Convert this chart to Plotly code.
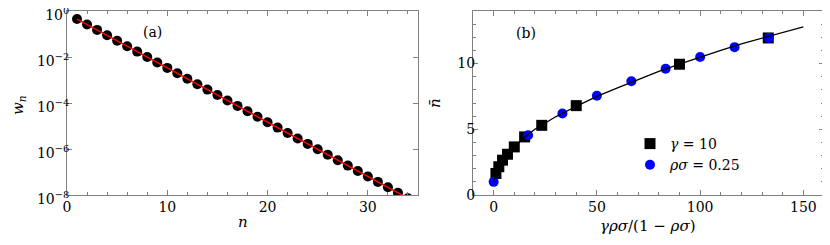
import plotly.graph_objects as go

# ---- panel (a) data ----
n_vals = list(range(1, 35))
w_log10 = [-0.350, -0.586, -0.822, -1.058, -1.294, -1.530, -1.766, -2.002, -2.238, -2.474,
           -2.710, -2.946, -3.182, -3.418, -3.654, -3.890, -4.126, -4.362, -4.598, -4.834,
           -5.070, -5.306, -5.542, -5.778, -6.014, -6.250, -6.486, -6.722, -6.958, -7.194,
           -7.430, -7.666, -7.902, -8.138]
w_vals = [10 ** v for v in w_log10]

# ---- panel (b) data ----
sq_x = [1.1, 2.5, 4.3, 6.7, 10.0, 15.0, 23.3, 40.0, 90.0, 133.0]
sq_y = [1.64, 2.15, 2.65, 3.1, 3.66, 4.42, 5.3, 6.8, 9.95, 11.95]
ci_x = [0.0, 16.7, 33.3, 50.0, 66.7, 83.3, 100.0, 116.7, 133.3]
ci_y = [1.0, 4.55, 6.2, 7.55, 8.65, 9.6, 10.5, 11.25, 11.95]
curve_x = [0, 0.3, 1, 2.5, 5, 10, 15, 20, 30, 40, 50, 60, 70, 80, 90, 100, 110, 120, 130, 140, 150]
curve_y = [1.0, 1.3, 1.64, 2.15, 2.8, 3.66, 4.4, 5.0, 5.95, 6.75, 7.5, 8.15, 8.8, 9.4, 9.95,
           10.5, 11.0, 11.5, 11.95, 12.4, 12.8]

a_xticks = [0, 10, 20, 30]
a_yticks = [1e0, 1e-2, 1e-4, 1e-6, 1e-8]
a_ytext = ["10<sup>0</sup>", "10<sup>−2</sup>", "10<sup>−4</sup>", "10<sup>−6</sup>", "10<sup>−8</sup>"]
b_xticks = [0, 50, 100, 150]
b_yticks = [0, 5, 10]
b_ytext = ["0", "5", "10"]

FONT = "DejaVu Serif"
AX = "#808080"
W, H = 830, 245
OFF = 8  # page offset of the figure inside the browser window


def px(x):
    return (x - OFF) / W


def py(y):
    return 1 - (y - OFF) / H


fig = go.Figure()
fig.add_trace(go.Scatter(x=n_vals, y=w_vals, mode="markers",
                         marker=dict(color="black", size=10), showlegend=False,
                         xaxis="x", yaxis="y"))
fig.add_trace(go.Scatter(x=n_vals, y=w_vals, mode="lines",
                         line=dict(color="red", width=1.5), showlegend=False,
                         xaxis="x", yaxis="y"))
fig.add_trace(go.Scatter(x=sq_x, y=sq_y, mode="markers", name="<i>γ</i> = 10",
                         marker=dict(color="black", size=11, symbol="square"),
                         xaxis="x2", yaxis="y2"))
fig.add_trace(go.Scatter(x=ci_x, y=ci_y, mode="markers", name="<i>ρσ</i> = 0.25",
                         marker=dict(color="blue", size=10), xaxis="x2", yaxis="y2"))
fig.add_trace(go.Scatter(x=curve_x, y=curve_y, mode="lines", line=dict(color="black", width=1.3),
                         showlegend=False, xaxis="x2", yaxis="y2"))


def axcommon(letter):
    return dict(showline=True, linecolor=AX, linewidth=1, mirror="allticks", ticks="inside",
                tickcolor=AX, ticklen=5, showgrid=False, zeroline=False,
                automargin=False, ticklabeloverflow="allow",
                ticklabelstandoff=(-6 if letter == "y" else -1),
                tickfont=dict(family=FONT, size=14, color="black"))


def label(text, x, y, angle=0, size=15):
    return dict(text=text, x=px(x), y=py(y), xref="paper", yref="paper",
                xanchor="center", yanchor="middle", showarrow=False, textangle=angle,
                font=dict(family=FONT, size=size))


ydom = [py(195), py(11)]
fig.update_layout(
    width=W, height=H, margin=dict(l=0, r=0, t=0, b=0, pad=0, autoexpand=False),
    plot_bgcolor="white", paper_bgcolor="white",
    font=dict(family=FONT, size=14, color="black"),
    xaxis=dict(domain=[px(67), px(418)], range=[0, 35], tickvals=a_xticks,
               minor=dict(dtick=2, ticks="inside", ticklen=3, tickcolor=AX),
               anchor="y", **axcommon("x")),
    yaxis=dict(domain=ydom, type="log", range=[-8, 0], tickvals=a_yticks, ticktext=a_ytext,
               ticklabelshift=4, anchor="x", **axcommon("y")),
    xaxis2=dict(domain=[px(473), px(824)], range=[-10, 160], tickvals=b_xticks,
                minor=dict(dtick=10, tick0=0, ticks="inside", ticklen=3, tickcolor=AX),
                anchor="y2", **axcommon("x")),
    yaxis2=dict(domain=ydom, range=[0, 14], tickvals=b_yticks, ticktext=b_ytext,
                minor=dict(dtick=1, tick0=0, ticks="inside", ticklen=3, tickcolor=AX),
                anchor="x2", **axcommon("y")),
    legend=dict(x=px(630), y=py(128), xanchor="left", yanchor="top",
                bgcolor="rgba(0,0,0,0)", font=dict(family=FONT, size=14)),
    annotations=[
        label("(a)", 152, 32, size=14),
        label("(b)", 526, 33, size=14),
        label("<i>n</i>", 243, 222),
        label("<i>γρσ</i>/(1 − <i>ρσ</i>)", 648, 226),
        label("<i>w<sub>n</sub></i>", 18, 105, angle=-90),
        label("<i>n̄</i>", 435, 103, angle=-90),
    ],
)

fig.write_html("out.html")
